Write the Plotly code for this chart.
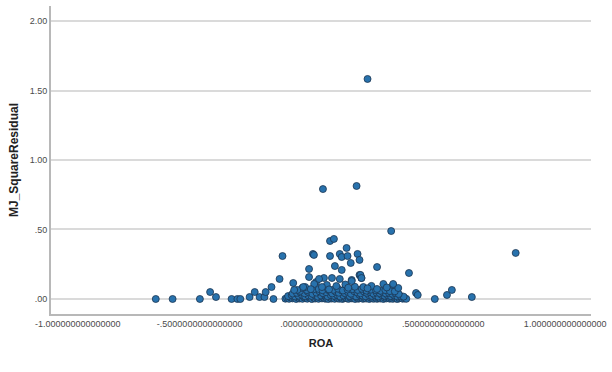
import plotly.graph_objects as go

# Scattered observations away from the dense core
tail_roa = [-0.680, -0.611, -0.499, -0.457, -0.433, -0.369, -0.345, -0.333, -0.295,
            -0.274, -0.254, -0.234, -0.229, -0.205, -0.197, -0.172, -0.160, -0.116,
            -0.075, -0.051, -0.035, -0.031, -0.051, -0.010, 0.035, 0.051, 0.035,
            0.055, 0.083, 0.075, 0.083, 0.103, 0.107, 0.120, 0.148, 0.156, 0.124,
            0.160, 0.164, 0.228, 0.286, 0.294, 0.359, 0.388, 0.395, 0.465, 0.515,
            0.535, 0.617, 0.797, 0.006, 0.144, 0.189]
tail_res = [0.000, 0.000, 0.000, 0.050, 0.014, 0.000, 0.000, 0.000, 0.014,
            0.050, 0.014, 0.014, 0.050, 0.086, 0.000, 0.144, 0.309, 0.115,
            0.086, 0.216, 0.324, 0.317, 0.158, 0.144, 0.417, 0.432, 0.309,
            0.237, 0.209, 0.324, 0.302, 0.367, 0.309, 0.259, 0.324, 0.281, 0.129,
            0.173, 0.151, 0.230, 0.489, 0.108, 0.187, 0.043, 0.029, 0.000, 0.029,
            0.065, 0.014, 0.331, 0.791, 0.813, 1.583]

# Upper edge of the core band
edge_roa = [0.022, 0.002, 0.172, 0.205, 0.254, 0.294, 0.315, -0.022, -0.030,
            -0.067, -0.079, -0.099, -0.112, 0.010, 0.043, 0.075, 0.124, 0.156, 0.164,
            0.061, 0.098, 0.137, 0.228, 0.268, -0.044, 0.031, 0.189, 0.110]
edge_res = [0.101, 0.086, 0.086, 0.094, 0.108, 0.101, 0.079, 0.122, 0.108,
            0.086, 0.079, 0.065, 0.065, 0.151, 0.151, 0.144, 0.137, 0.173, 0.151,
            0.093, 0.104, 0.088, 0.072, 0.083, 0.071, 0.069, 0.077, 0.081]

# Dense core near zero
core_roa = [-0.148, -0.141, -0.133, -0.127, -0.119, -0.112, -0.104, -0.098, -0.091,
            -0.085, -0.078, -0.071, -0.064, -0.058, -0.052, -0.045, -0.039, -0.031,
            -0.026, -0.018, -0.012, -0.005, 0.002, 0.009, 0.015, 0.021, 0.028, 0.034,
            0.041, 0.047, 0.054, 0.061, 0.066, 0.073, 0.079, 0.086, 0.092, 0.099,
            0.105, 0.112, 0.118, 0.125, 0.131, 0.138, 0.144, 0.151, 0.157, 0.163,
            0.170, 0.176, 0.183, 0.189, 0.196, 0.202, 0.209, 0.215, 0.221, 0.228,
            0.234, 0.241, 0.247, 0.254, 0.260, 0.267, 0.273, 0.280, 0.286, 0.293,
            0.299, 0.306, 0.312, 0.319, 0.326, 0.333, 0.341, 0.348,
            -0.137, -0.122, -0.108, -0.094, -0.081, -0.067, -0.054, -0.041, -0.028,
            -0.015, -0.002, 0.012, 0.025, 0.038, 0.051, 0.064, 0.077, 0.090, 0.103,
            0.116, 0.129, 0.142, 0.155, 0.168, 0.181, 0.194, 0.207, 0.220, 0.233,
            0.246, 0.259, 0.272, 0.285, 0.298, 0.311, 0.324, 0.337,
            -0.118, -0.101, -0.086, -0.069, -0.056, -0.037, -0.021, -0.008, 0.006,
            0.019, 0.033, 0.044, 0.058, 0.071, 0.084, 0.095, 0.108, 0.121, 0.134,
            0.147, 0.160, 0.174, 0.186, 0.199, 0.213, 0.226, 0.239, 0.252, 0.264,
            0.277, 0.290, 0.303, 0.317,
            -0.088, -0.060, -0.033, -0.011, 0.004, 0.027, 0.049, 0.068, 0.088,
            0.107, 0.127, 0.149, 0.166, 0.185, 0.203, 0.224, 0.243, 0.262, 0.281,
            0.301]
core_res = [0.002, 0.006, 0.001, 0.011, 0.004, 0.008, 0.000, 0.013, 0.003,
            0.007, 0.001, 0.010, 0.005, 0.002, 0.012, 0.004, 0.000, 0.009,
            0.003, 0.006, 0.001, 0.011, 0.004, 0.008, 0.002, 0.005, 0.000, 0.012,
            0.003, 0.007, 0.001, 0.010, 0.004, 0.002, 0.008, 0.000, 0.006, 0.011,
            0.003, 0.001, 0.009, 0.004, 0.007, 0.000, 0.012, 0.002, 0.005, 0.010,
            0.001, 0.006, 0.003, 0.011, 0.000, 0.008, 0.004, 0.002, 0.009, 0.001,
            0.006, 0.003, 0.012, 0.000, 0.007, 0.004, 0.010, 0.002, 0.005, 0.001,
            0.008, 0.003, 0.000, 0.006, 0.011, 0.002, 0.004, 0.001,
            0.021, 0.027, 0.018, 0.024, 0.031, 0.019, 0.026, 0.022, 0.029,
            0.017, 0.025, 0.032, 0.020, 0.028, 0.023, 0.030, 0.018, 0.026, 0.033,
            0.021, 0.027, 0.019, 0.031, 0.024, 0.020, 0.029, 0.022, 0.026, 0.018,
            0.030, 0.023, 0.027, 0.020, 0.025, 0.019, 0.022, 0.017,
            0.039, 0.044, 0.048, 0.041, 0.052, 0.037, 0.046, 0.055, 0.042,
            0.049, 0.058, 0.040, 0.053, 0.045, 0.060, 0.043, 0.051, 0.038, 0.056,
            0.047, 0.041, 0.054, 0.044, 0.050, 0.039, 0.046, 0.042, 0.048, 0.040,
            0.044, 0.038, 0.043, 0.036,
            0.058, 0.064, 0.069, 0.072, 0.063, 0.070, 0.066, 0.074, 0.061,
            0.068, 0.071, 0.065, 0.073, 0.060, 0.067, 0.062, 0.059, 0.064, 0.057,
            0.055]

x_tick_vals = [-1.0, -0.5, 0.0, 0.5, 1.0]
x_tick_text = ["-1.000000000000000", "-.5000000000000000", ".0000000000000000",
               ".5000000000000000", "1.000000000000000"]
y_tick_vals = [0.0, 0.5, 1.0, 1.5, 2.0]
y_tick_text = [".00", ".50", "1.00", "1.50", "2.00"]

roa = core_roa + edge_roa + tail_roa
res = core_res + edge_res + tail_res

fig = go.Figure(go.Scatter(
    x=roa, y=res, mode="markers",
    marker=dict(size=7, color="#2872ad", line=dict(color="#1c3550", width=0.8)),
    hoverinfo="x+y",
))

tick_font = dict(family="Liberation Sans, Arial, sans-serif", size=9, color="#4a4a4a")
x_title_font = dict(family="Liberation Sans, Arial, sans-serif", size=11, color="#222222")
y_title_font = dict(family="Liberation Sans, Arial, sans-serif", size=12, color="#222222")

fig.update_layout(
    width=612, height=372,
    margin=dict(l=51, r=15, t=6, b=58),
    paper_bgcolor="white", plot_bgcolor="white",
    showlegend=False,
    xaxis=dict(
        range=[-1.11, 1.106], tickvals=x_tick_vals, ticktext=x_tick_text,
        showgrid=False, zeroline=False, showline=True, linecolor="#b8b8b8",
        linewidth=2, ticks="", tickfont=tick_font, ticklabeloverflow="allow",
        title=dict(text="<b>ROA</b>", font=x_title_font, standoff=12),
    ),
    yaxis=dict(
        range=[-0.108, 2.108], tickvals=y_tick_vals, ticktext=y_tick_text,
        showgrid=True, gridcolor="#dadada", gridwidth=1.5, zeroline=False,
        showline=True, linecolor="#b8b8b8", linewidth=2, ticks="",
        tickfont=tick_font,
        title=dict(text="<b>MJ_SquareResidual</b>", font=y_title_font, standoff=8),
    ),
)

fig.write_html("out.html")
